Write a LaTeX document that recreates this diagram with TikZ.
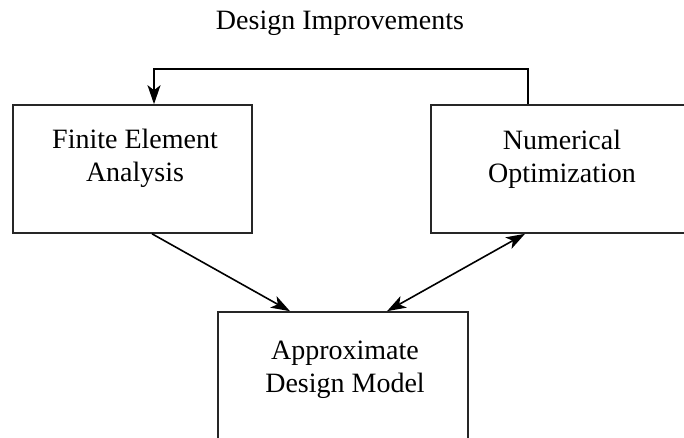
\documentclass[tikz,border=0pt]{standalone}
\usepackage{fontspec}
\setmainfont{Liberation Serif}
\usetikzlibrary{arrows.meta}
\begin{document}
\begin{tikzpicture}[x=1pt,y=-1pt,
  box/.style={draw=black!85,line width=1.6pt,rectangle,inner sep=0pt},
  lbl/.style={align=center,font=\fontsize{28}{33}\selectfont,inner sep=0pt,text=black},
  conn/.style={line width=1.6pt,black},
  tip/.style={-{Stealth[length=19pt,width=13pt,inset=5pt]}},
  dtip/.style={{Stealth[length=19pt,width=13pt,inset=5pt]}-{Stealth[length=19pt,width=13pt,inset=5pt]}}]
\useasboundingbox (0,0) rectangle (684,438);
\clip (0,0) rectangle (684,438);
\node[box,minimum width=239pt,minimum height=128pt] (FEA) at (132.5,169) {};
\node[box,minimum width=263pt,minimum height=128pt] (NO) at (562.5,169) {};
\node[box,minimum width=250pt,minimum height=140pt] (ADM) at (343,382) {};
\node[lbl,anchor=base] (t0) at (340,30) {Design Improvements};
\node[lbl,anchor=base] (t1) at (135,182) {Finite Element\\Analysis};
\node[lbl,anchor=base] (t2) at (562,183) {Numerical\\Optimization};
\node[lbl,anchor=base] (t3) at (345,392) {Approximate\\Design Model};
\coordinate (fbR) at (528,69);
\coordinate (fbL) at (154,69);
\draw[conn,tip] (fbR |- NO.north) -- (fbR) -- (fbL) -- (fbL |- FEA.north);
\draw[conn,tip] ([xshift=19.5pt]FEA.south) -- ([xshift=-53pt]ADM.north);
\draw[conn,dtip] ([xshift=44pt]ADM.north) -- ([xshift=-37.5pt]NO.south);
\end{tikzpicture}
\end{document}
